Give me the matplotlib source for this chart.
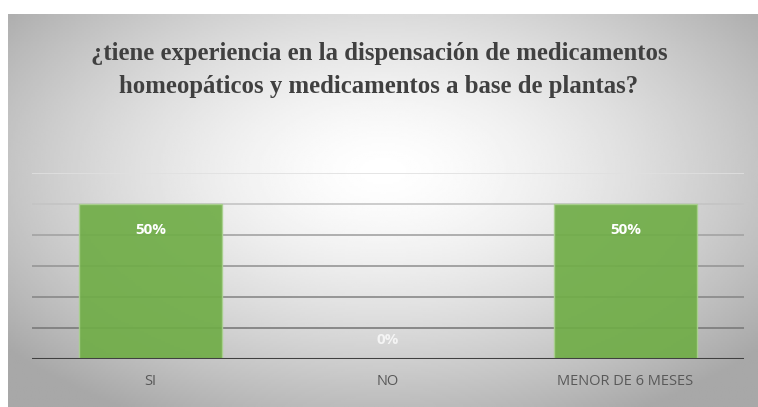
import matplotlib.pyplot as plt
import numpy as np

categories = ["SI", "NO", "MENOR DE 6 MESES"]
values = [0.50, 0.0, 0.50]
labels = ["50%", "0%", "50%"]
title = ("¿tiene experiencia en la dispensación de medicamentos\n"
         "homeopáticos y medicamentos a base de plantas?")

W, H = 758, 407
fig = plt.figure(figsize=(W / 100, H / 100), dpi=100)
fig.patch.set_facecolor("white")

# gray radial-gradient panel behind the chart
bg = fig.add_axes([8 / W, 0, 1 - 8 / W, 1 - 14 / H], zorder=0)
yy, xx = np.mgrid[-1:1:200j, -1:1:400j]
r = np.sqrt((xx / 1.0) ** 2 + ((yy + 0.2) / 1.1) ** 2)
shade = 1.0 - 0.23 * np.clip(r, 0, 1.3) ** 1.5
bg.imshow(shade, cmap="gray", vmin=0, vmax=1, aspect="auto", extent=[0, 1, 0, 1])
bg.axis("off")

ax = fig.add_axes([32 / W, 1 - 359 / H, (744 - 32) / W, (359 - 173) / H], zorder=1)
ax.set_facecolor("none")
x = np.arange(len(categories))
ax.bar(x, values, width=0.6, color="#70AD47", alpha=0.92,
       edgecolor="#A9D18E", linewidth=1.0, zorder=3)

for i, (v, lab) in enumerate(zip(values, labels)):
    if v > 0:
        ax.text(i, v - 0.083, lab, ha="center", va="center", color="white",
                fontsize=11, fontweight="bold", family="Open Sans", zorder=4)
    else:
        ax.text(i, 0.06, lab, ha="center", va="center", color="#F4F4F4",
                fontsize=11, fontweight="bold", family="Open Sans", zorder=4)

ax.set_ylim(0, 0.6)
ax.set_xlim(-0.5, 2.5)
grid_colors = ["#7a7a7a", "#888888", "#969696", "#a3a3a3", "#c4c4c4", "#e0e0e0"]
for k, c in zip(np.arange(0.1, 0.61, 0.1), grid_colors):
    ax.axhline(k, color=c, linewidth=1.2, zorder=1)
ax.axhline(0, color="#404040", linewidth=2.2, zorder=5)

for s in ax.spines.values():
    s.set_visible(False)
ax.set_yticks([])
ax.set_xticks(x)
ax.set_xticklabels(categories, family="Open Sans", fontsize=10.5, color="#595959")
ax.tick_params(axis="x", length=0, pad=11)

fig.text(0.5, 1 - 70 / H, title, ha="center", va="center", family="Liberation Serif",
         fontweight="bold", fontsize=17.8, color="#404040", linespacing=1.6)

fig.savefig("out.png", dpi=100)
